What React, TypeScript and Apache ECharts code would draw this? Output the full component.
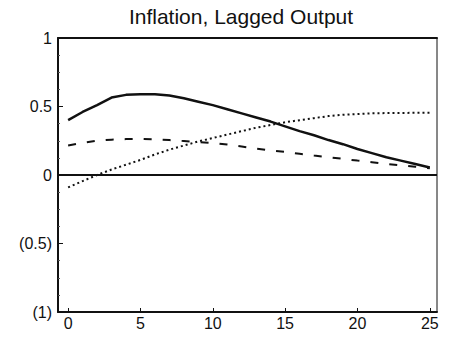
import React, { useEffect, useRef } from "react";
import * as echarts from "echarts";

const periods = Array.from({ length: 26 }, (_, i) => i);
const solidValues = [0.40, 0.46, 0.51, 0.565, 0.585, 0.59, 0.59, 0.58, 0.56, 0.535, 0.51, 0.48, 0.45, 0.42, 0.39, 0.355, 0.32, 0.29, 0.255, 0.225, 0.19, 0.16, 0.13, 0.105, 0.08, 0.055];
const dashedValues = [0.215, 0.235, 0.25, 0.258, 0.262, 0.263, 0.26, 0.255, 0.248, 0.24, 0.233, 0.222, 0.208, 0.192, 0.18, 0.168, 0.155, 0.142, 0.13, 0.118, 0.105, 0.093, 0.08, 0.07, 0.06, 0.05];
const dottedValues = [-0.09, -0.045, 0.0, 0.04, 0.075, 0.11, 0.15, 0.185, 0.215, 0.245, 0.27, 0.295, 0.32, 0.345, 0.365, 0.385, 0.4, 0.415, 0.43, 0.44, 0.445, 0.45, 0.452, 0.453, 0.454, 0.455];
const xTicks = [0, 5, 10, 15, 20, 25];
const title = "Inflation, Lagged Output";

const font = "Liberation Sans, Arial, sans-serif";

export default function App() {
  const ref = useRef<HTMLDivElement>(null);
  useEffect(() => {
    if (!ref.current) return;
    const chart = echarts.init(ref.current, null, { renderer: "svg" });
    const pair = (vals: number[]) => periods.map((p, i) => [p, vals[i]]);
    chart.setOption({
      animation: false,
      backgroundColor: "#ffffff",
      title: {
        text: title,
        left: 236,
        textAlign: "center",
        top: 1,
        textStyle: { fontFamily: font, fontSize: 21, fontWeight: "normal", color: "#111" },
      },
      grid: {
        left: 58,
        right: 21,
        top: 38,
        bottom: 31,
        show: true,
        borderColor: "#111",
        borderWidth: 1,
      },
      xAxis: [
        {
          type: "value",
          min: -0.7,
          max: 25.5,
          position: "bottom",
          splitLine: { show: false },
          axisLine: { show: true, onZero: false, lineStyle: { color: "#111", width: 2 } },
          axisTick: { show: true, inside: true, length: 4, customValues: xTicks, lineStyle: { color: "#111" } },
          axisLabel: {
            customValues: xTicks,
            color: "#111",
            fontFamily: font,
            fontSize: 16,
            margin: 3,
          },
        },
        {
          type: "value",
          min: -0.7,
          max: 25.5,
          position: "top",
          splitLine: { show: false },
          axisLine: { show: true, onZero: false, lineStyle: { color: "#111", width: 2 } },
          axisTick: { show: false },
          axisLabel: { show: false },
        },
      ],
      yAxis: {
        type: "value",
        min: -1,
        max: 1,
        interval: 0.5,
        splitLine: { show: false },
        axisLine: { show: true, onZero: false, lineStyle: { color: "#111", width: 2 } },
        axisTick: { show: true, inside: true, length: 5, lineStyle: { color: "#111" } },
        minorTick: { show: true, splitNumber: 4, length: 2, lineStyle: { color: "#555" } },
        axisLabel: {
          color: "#111",
          fontFamily: font,
          fontSize: 16,
          margin: 6,
          formatter: (v: number) => {
            if (v < 0) return "(" + String(Math.abs(v)) + ")";
            return String(v);
          },
        },
      },
      series: [
        {
          type: "line",
          data: pair(solidValues),
          showSymbol: false,
          lineStyle: { color: "#111", width: 2.5, type: "solid" },
          markLine: {
            silent: true,
            symbol: "none",
            label: { show: false },
            lineStyle: { color: "#111", width: 2, type: "solid" },
            data: [{ yAxis: 0 }],
          },
        },
        {
          type: "line",
          data: pair(dashedValues),
          showSymbol: false,
          lineStyle: { color: "#111", width: 2, type: [8, 11] },
        },
        {
          type: "line",
          data: pair(dottedValues),
          showSymbol: false,
          lineStyle: { color: "#111", width: 2, type: [2, 3] },
        },
      ],
    });
    return () => chart.dispose();
  }, []);
  return (
    <div
      ref={ref}
      style={{ position: "fixed", left: 0, top: 0, width: 458, height: 343, background: "#fff" }}
    />
  );
}
